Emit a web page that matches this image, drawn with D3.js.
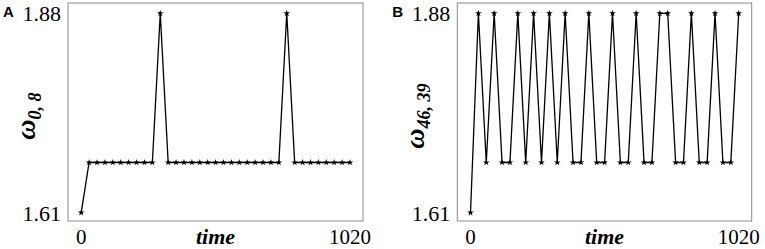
<!DOCTYPE html>
<html><head><meta charset="utf-8">
<script src="https://cdn.jsdelivr.net/npm/d3@7"></script>
<style>body{margin:0;background:#fff}svg{display:block}</style>
</head><body>
<svg id="c" width="765" height="249"></svg>
<script>
// Data
const times = d3.range(0, 1021, 30); // 35 samples, 0..1020
const LOW = 1.61, MID = 1.678, HIGH = 1.88;
const peaksA = [10, 26];
const peaksB = [1, 3, 6, 8, 10, 12, 15, 18, 21, 24, 25, 28, 31, 34];
const seriesA = times.map((t, i) => i === 0 ? LOW : (peaksA.includes(i) ? HIGH : MID));
const seriesB = times.map((t, i) => i === 0 ? LOW : (peaksB.includes(i) ? HIGH : MID));
const yTicks = [1.61, 1.88];
const xTicks = [0, 1020];
const panels = [
  {letter: "A", sub: "0, 8", values: seriesA, fx: 68, fw: 295},
  {letter: "B", sub: "46, 39", values: seriesB, fx: 457.3, fw: 294.4}
];

const svg = d3.select("#c");
const frameTop = 3, frameBottom = 221;
const y = d3.scaleLinear().domain([LOW, HIGH]).range([212.7, 13.3]);

panels.forEach(p => {
  const g = svg.append("g");
  const x = d3.scaleLinear().domain([0, 1020]).range([p.fx + 13.2, p.fx + p.fw - 13]);
  g.append("rect").attr("x", p.fx).attr("y", frameTop).attr("width", p.fw).attr("height", frameBottom - frameTop)
    .attr("fill", "none").attr("stroke", "#8a8a8a").attr("stroke-width", 1);
  const line = d3.line().x((d, i) => x(times[i])).y(d => y(d));
  g.append("path").datum(p.values).attr("d", line).attr("fill", "none")
    .attr("stroke", "#000").attr("stroke-width", 1.3);
  g.selectAll("path.m").data(p.values).enter().append("path").attr("class", "m")
    .attr("transform", (d, i) => `translate(${x(times[i])},${y(d)})`)
    .attr("d", d3.symbol().type(d3.symbolStar).size(14)).attr("fill", "#000");
  // y tick labels
  g.selectAll("text.yt").data(yTicks).enter().append("text").attr("class", "yt")
    .attr("x", p.fx - 7).attr("y", d => y(d)).attr("dy", "0.36em")
    .attr("text-anchor", "end").attr("font-family", "Liberation Serif, Times New Roman, serif")
    .attr("font-size", 22).text(d => d3.format(".2f")(d));
  // x tick labels
  g.selectAll("text.xt").data(xTicks).enter().append("text").attr("class", "xt")
    .attr("x", d => x(d)).attr("y", 244).attr("text-anchor", "middle")
    .attr("font-family", "Liberation Serif, Times New Roman, serif")
    .attr("font-size", 21).text(d => d);
  // x axis title
  g.append("text").attr("x", p.fx + p.fw / 2).attr("y", 244).attr("text-anchor", "middle")
    .attr("font-family", "Liberation Serif, Times New Roman, serif").attr("font-style", "italic")
    .attr("font-weight", "bold").attr("font-size", 22).text("time");
  // y axis title
  const yt = g.append("text").attr("transform", `translate(${p.fx - 33},116) rotate(-90)`)
    .attr("text-anchor", "middle")
    .attr("font-family", "Liberation Serif, Times New Roman, serif").attr("font-style", "italic")
    .attr("font-weight", "bold");
  yt.append("tspan").attr("font-size", 28).text("ω");
  yt.append("tspan").attr("font-size", 18).attr("dy", 6).text(p.sub);
  // panel letter
  g.append("text").attr("x", p.fx - 65).attr("y", 17)
    .attr("font-family", "Liberation Sans, Arial, sans-serif").attr("font-weight", "bold")
    .attr("font-size", 15).text(p.letter);
});
</script>
</body></html>
